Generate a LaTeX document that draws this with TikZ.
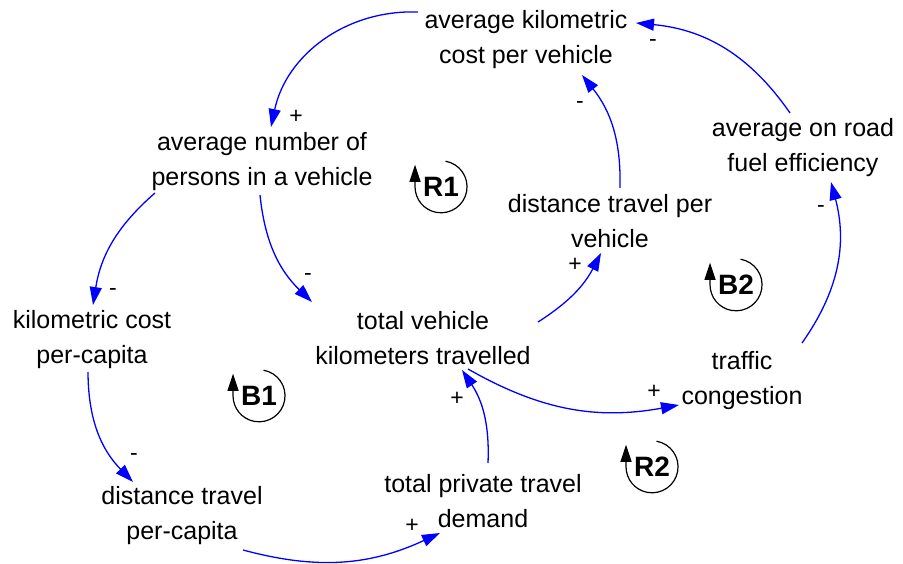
\documentclass[tikz,border=0pt]{standalone}
\usepackage{fontspec}
\setmainfont{Liberation Sans}
\usetikzlibrary{arrows.meta, calc}
\definecolor{LinkBlue}{HTML}{0000FF}
\tikzset{
  var/.style={align=center, inner sep=2pt, font=\fontsize{25}{35}\selectfont},
  sgn/.style={font=\fontsize{23}{23}\selectfont, inner sep=0pt},
  link/.style={-{Triangle[length=18pt,width=12pt]}, line width=1.3pt, color=LinkBlue},
  loopnode/.style={circle, minimum size=52pt, inner sep=0pt,
    font=\fontsize{28}{28}\selectfont\bfseries},
  looparr/.style={-{Triangle[length=17pt,width=11pt]}, line width=1.2pt},
}
\begin{document}
\begin{tikzpicture}[x=1pt,y=1pt]
  \useasboundingbox (0,0) rectangle (903,563);
  % variables
  \node[var] (akc) at (526,523) {average kilometric\\cost per vehicle};
  \node[var] (anp) at (262,401) {average number of\\persons in a vehicle};
  \node[var] (kcc) at (92,223)  {kilometric cost\\per-capita};
  \node[var] (dtc) at (182,47)  {distance travel\\per-capita};
  \node[var] (tpd) at (483,62)  {total private travel\\demand};
  \node[var] (tvk) at (423,225) {total vehicle\\kilometers travelled};
  \node[var] (tc)  at (742,182) {traffic\\congestion};
  \node[var] (dtv) at (610,342) {distance travel per\\vehicle};
  \node[var] (aof) at (803,415) {average on road\\fuel efficiency};
  % causal links
  \draw[link] ($(akc)+(-108,28)$) to[bend right=40] ($(anp)+(9,35)$);
  \draw[link] ($(anp)+(-107,-31)$) to[bend right=20] ($(kcc)+(1,35)$);
  \draw[link] ($(anp)+(-2,-33)$) to[bend right=20] ($(tvk)+(-111,36)$);
  \draw[link] ($(kcc)+(-4,-32)$) to[bend right=22] ($(dtc)+(-49,34)$);
  \draw[link] ($(dtc)+(61,-34)$) to[bend right=20] ($(tpd)+(-43,-32)$);
  \draw[link] ($(tpd)+(5,38)$) to[bend right=18] ($(tvk)+(39,-32)$);
  \draw[link] ($(tvk)+(45,-31)$) to[bend right=20] ($(tc)+(-63,-24)$);
  \draw[link] ($(tvk)+(115,16)$) to[bend right=15] ($(dtv)+(-9,-32)$);
  \draw[link] ($(dtv)+(10,33)$) to[bend right=20] ($(akc)+(56,-35)$);
  \draw[link] ($(tc)+(60,38)$) to[bend right=25] ($(aof)+(28,-34)$);
  \draw[link] ($(aof)+(-13,35)$) to[bend right=25] ($(akc)+(110,17)$);
  % polarities
  \node[sgn] (s1)  at (296,446) {+};
  \node[sgn] (s2)  at (113,271) {-};
  \node[sgn] (s3)  at (308,286) {-};
  \node[sgn] (s4)  at (134,106) {-};
  \node[sgn] (s5)  at (412,37)  {+};
  \node[sgn] (s6)  at (457,164) {+};
  \node[sgn] (s7)  at (654,171) {+};
  \node[sgn] (s8)  at (575,298) {+};
  \node[sgn] (s9)  at (580,458) {-};
  \node[sgn] (s10) at (821,354) {-};
  \node[sgn] (s11) at (653,520) {-};
  % loop markers
  \node[loopnode] (r1) at (441,376) {R1};
  \draw[looparr] (r1.80) arc[start angle=80, end angle=-180, radius=26pt] -- ++(0,22);
  \node[loopnode] (b1) at (259,167) {B1};
  \draw[looparr] (b1.80) arc[start angle=80, end angle=-180, radius=26pt] -- ++(0,22);
  \node[loopnode] (b2) at (736,278) {B2};
  \draw[looparr] (b2.80) arc[start angle=80, end angle=-180, radius=26pt] -- ++(0,22);
  \node[loopnode] (r2) at (652,96) {R2};
  \draw[looparr] (r2.80) arc[start angle=80, end angle=-180, radius=26pt] -- ++(0,22);
\end{tikzpicture}
\end{document}
